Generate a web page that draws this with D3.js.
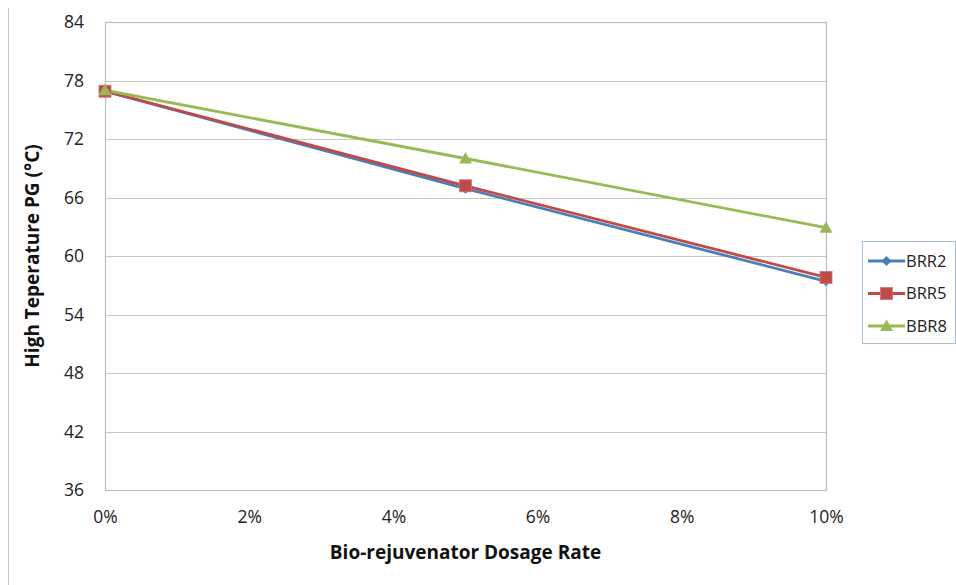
<!DOCTYPE html>
<html>
<head>
<meta charset="utf-8">
<script src="https://cdn.jsdelivr.net/npm/d3@7"></script>
<style>
  html, body { margin: 0; padding: 0; background: #fff; }
  svg { display: block; font-family: "Open Sans", "Noto Sans", sans-serif; }
</style>
</head>
<body>
<svg id="chart" width="956" height="585"></svg>
<script>
const dosage = [0, 0.05, 0.10];
const brr2 = [76.9, 66.9, 57.4];
const brr5 = [76.9, 67.2, 57.8];
const bbr8 = [77.0, 70.0, 62.9];
const seriesNames = ["BRR2", "BRR5", "BBR8"];
const seriesColors = ["#4A7EBB", "#BE4B48", "#98B954"];
const seriesShapes = ["diamond", "square", "triangle"];
const yTicks = [36, 42, 48, 54, 60, 66, 72, 78, 84];
const xTicks = [0, 0.02, 0.04, 0.06, 0.08, 0.10];

const series = [brr2, brr5, bbr8].map((vals, i) => ({
  name: seriesNames[i], color: seriesColors[i], shape: seriesShapes[i],
  values: vals.map((v, j) => ({ x: dosage[j], y: v }))
}));

const svg = d3.select("#chart");
const m = { left: 105, right: 826, top: 22, bottom: 490 };
const x = d3.scaleLinear().domain([0, 0.10]).range([m.left, m.right]);
const y = d3.scaleLinear().domain([36, 84]).range([m.bottom, m.top]);

// outer left border line
svg.append("line").attr("x1", 8.5).attr("x2", 8.5).attr("y1", 8).attr("y2", 585)
  .attr("stroke", "#c8c8c8").attr("stroke-width", 1);

// gridlines
svg.append("g").selectAll("line").data(yTicks).join("line")
  .attr("x1", m.left).attr("x2", m.right)
  .attr("y1", d => Math.round(y(d)) + 0.5).attr("y2", d => Math.round(y(d)) + 0.5)
  .attr("stroke", "#c6c6c6").attr("stroke-width", 1);

// plot border
svg.append("rect").attr("x", m.left + 0.5).attr("y", m.top + 0.5)
  .attr("width", m.right - m.left).attr("height", m.bottom - m.top)
  .attr("fill", "none").attr("stroke", "#bdbdbd").attr("stroke-width", 1.2);

// y axis
const yAxis = d3.axisLeft(y).tickValues(yTicks).tickSize(0).tickPadding(21);
const gy = svg.append("g").attr("transform", `translate(${m.left},0)`).call(yAxis);
gy.select(".domain").remove();
gy.selectAll("text").attr("font-size", 17.5).attr("fill", "#222")
  .attr("font-family", "'Open Sans', sans-serif");

// x axis
const xAxis = d3.axisBottom(x).tickValues(xTicks).tickSize(0).tickPadding(21)
  .tickFormat(d3.format(".0%"));
const gx = svg.append("g").attr("transform", `translate(0,${m.bottom})`).call(xAxis);
gx.select(".domain").remove();
gx.selectAll("text").attr("font-size", 17.5).attr("fill", "#222")
  .attr("font-family", "'Open Sans', sans-serif");

// axis titles
svg.append("text").attr("transform", `translate(39,${(m.top + m.bottom) / 2}) rotate(-90)`)
  .attr("text-anchor", "middle").attr("font-weight", "bold").attr("font-size", 19)
  .attr("fill", "#111").text("High Teperature PG (°C)");
svg.append("text").attr("x", (m.left + m.right) / 2).attr("y", 559)
  .attr("text-anchor", "middle").attr("font-weight", "bold").attr("font-size", 19)
  .attr("fill", "#111").text("Bio-rejuvenator Dosage Rate");

// markers
function marker(g, shape, color, cx, cy) {
  if (shape === "diamond") {
    g.append("path").attr("d", `M${cx},${cy - 5}L${cx + 5},${cy}L${cx},${cy + 5}L${cx - 5},${cy}Z`)
      .attr("fill", color);
  } else if (shape === "square") {
    g.append("rect").attr("x", cx - 6).attr("y", cy - 6).attr("width", 12).attr("height", 12)
      .attr("fill", color).attr("stroke", "#d07370").attr("stroke-width", 0.8);
  } else {
    g.append("path").attr("d", `M${cx},${cy - 6.5}L${cx + 6.5},${cy + 5}L${cx - 6.5},${cy + 5}Z`)
      .attr("fill", color);
  }
}

const line = d3.line().x(d => x(d.x)).y(d => y(d.y));
series.forEach(s => {
  svg.append("path").datum(s.values).attr("d", line)
    .attr("fill", "none").attr("stroke", s.color).attr("stroke-width", 2.8);
});
series.forEach(s => {
  const g = svg.append("g");
  s.values.forEach(d => marker(g, s.shape, s.color, x(d.x), y(d.y)));
});

// legend
const lg = svg.append("g");
lg.append("rect").attr("x", 862.5).attr("y", 241.5).attr("width", 93).attr("height", 102)
  .attr("fill", "#fff").attr("stroke", "#a8bfdc").attr("stroke-width", 1);
series.forEach((s, i) => {
  const ly = 261 + i * 32.5;
  lg.append("line").attr("x1", 868).attr("x2", 905).attr("y1", ly).attr("y2", ly)
    .attr("stroke", s.color).attr("stroke-width", 2.8);
  marker(lg, s.shape, s.color, 886.5, ly);
  lg.append("text").attr("x", 906).attr("y", ly).attr("dy", "0.35em")
    .attr("font-size", 16.5).attr("fill", "#222").text(s.name);
});
</script>
</body>
</html>
